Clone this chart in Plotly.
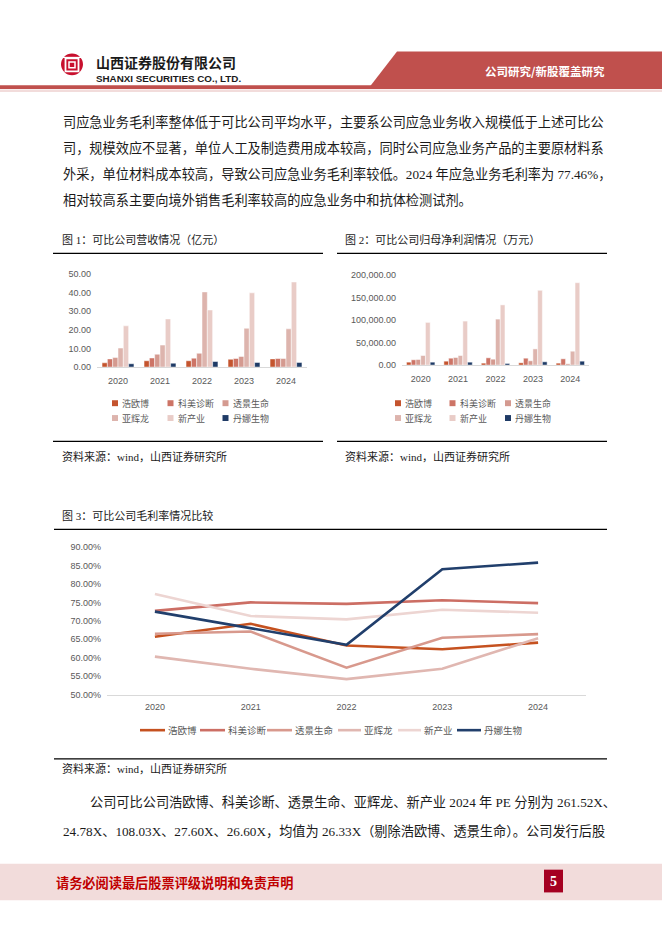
import plotly.graph_objects as go

W, H = 662, 936


def fx(p):
    return p / W


def fy(p):
    return 1 - p / H


# ---------------- data ----------------
years = ["2020", "2021", "2022", "2023", "2024"]
companies = ["浩欧博", "科美诊断", "透景生命", "亚辉龙", "新产业", "丹娜生物"]

# 图1 营收（亿元）
rev_haoubo = [2.3, 3.4, 3.4, 4.2, 4.4]
rev_kemei = [4.4, 4.9, 4.8, 4.6, 4.6]
rev_toujing = [5.1, 6.9, 7.4, 5.7, 4.6]
rev_yahuilong = [10.2, 11.8, 40.3, 20.8, 20.5]
rev_xinchanye = [22.1, 25.8, 30.6, 39.8, 45.6]
rev_danna = [1.8, 2.1, 3.0, 2.5, 2.5]

# 图2 归母净利润（万元）
np_haoubo = [6600, 8800, 4400, 5100, 4400]
np_kemei = [11800, 15400, 16200, 15400, 14000]
np_toujing = [12500, 16900, 13200, 9600, 2900]
np_yahuilong = [21300, 21300, 102200, 36000, 30900]
np_xinchanye = [94900, 97800, 133800, 166200, 183100]
np_danna = [6600, 6600, 3700, 7400, 8800]

# 图3 毛利率（%）
gm_haoubo = [65.7, 69.2, 63.3, 62.3, 64.1]
gm_kemei = [72.7, 75.0, 74.6, 75.6, 74.8]
gm_toujing = [66.5, 67.1, 57.3, 65.4, 66.4]
gm_yahuilong = [60.3, 57.0, 54.2, 57.0, 65.3]
gm_xinchanye = [77.3, 71.3, 70.4, 73.0, 72.2]
gm_danna = [72.5, 68.1, 63.5, 84.0, 85.8]

# tick labels
rev_ticks = [0, 10, 20, 30, 40, 50]
np_ticks = [0, 50000, 100000, 150000, 200000]
gm_ticks = [50, 55, 60, 65, 70, 75, 80, 85, 90]
gm_ticktext = [f"{v:.2f}%" for v in gm_ticks]

bar_colors = ["#C4542E", "#CD7466", "#D49A90", "#DDB4AD", "#E9CCC7", "#1F3B66"]
line_colors = ["#C5511F", "#CC6E64", "#D8998D", "#E0B7B1", "#EDD5D2", "#213F6C"]

revenue = [rev_haoubo, rev_kemei, rev_toujing, rev_yahuilong, rev_xinchanye, rev_danna]
netprofit = [np_haoubo, np_kemei, np_toujing, np_yahuilong, np_xinchanye, np_danna]
grossmargin = [gm_haoubo, gm_kemei, gm_toujing, gm_yahuilong, gm_xinchanye, gm_danna]

fig = go.Figure()

for name, vals, col in zip(companies, revenue, bar_colors):
    fig.add_trace(go.Bar(x=years, y=vals, name=name, marker=dict(color=col, line=dict(color="white", width=0.5)),
                         xaxis="x", yaxis="y", showlegend=False))
for name, vals, col in zip(companies, netprofit, bar_colors):
    fig.add_trace(go.Bar(x=years, y=vals, name=name, marker=dict(color=col, line=dict(color="white", width=0.5)),
                         xaxis="x2", yaxis="y2", showlegend=False))
for name, vals, col in zip(companies, grossmargin, line_colors):
    fig.add_trace(go.Scatter(x=years, y=vals, name=name, mode="lines", line=dict(color=col, width=2.6),
                             xaxis="x3", yaxis="y3", showlegend=False))

TICK = dict(family="Liberation Sans, Noto Sans CJK SC", size=9, color="#595959")
CJK = "Liberation Serif, Noto Sans CJK SC"
SANS_CJK = "Noto Sans CJK SC"

axis_common_x = dict(type="category", showgrid=False, zeroline=False, showline=True, linecolor="#D9D9D9",
                     linewidth=1, ticks="", tickfont=TICK)
axis_common_y = dict(showgrid=False, zeroline=False, showline=False, ticks="", tickfont=TICK, ticklabelstandoff=5)

fig.update_layout(
    width=W, height=H, margin=dict(l=0, r=0, t=0, b=0),
    paper_bgcolor="white", plot_bgcolor="rgba(0,0,0,0)",
    barmode="group", bargap=0.24, bargroupgap=0,
    xaxis=dict(domain=[fx(97), fx(307)], anchor="y", range=[-0.5, 4.5], ticklabelstandoff=5, **axis_common_x),
    yaxis=dict(domain=[fy(366), fy(271.7)], anchor="x", range=[0, 50], tickvals=rev_ticks,
               tickformat=".2f", **axis_common_y),
    xaxis2=dict(domain=[fx(402), fx(589)], anchor="y2", range=[-0.5, 4.5], ticklabelstandoff=5, **axis_common_x),
    yaxis2=dict(domain=[fy(364), fy(273)], anchor="x2", range=[0, 200000],
                tickvals=np_ticks, tickformat=",.2f", **axis_common_y),
    xaxis3=dict(domain=[fx(107), fx(586)], anchor="y3", range=[-0.5, 4.5], ticklabelstandoff=4, **axis_common_x),
    yaxis3=dict(domain=[fy(697), fy(548)], anchor="x3", range=[50, 90],
                tickvals=gm_ticks, ticktext=gm_ticktext, **axis_common_y),
    showlegend=False,
)

shapes = []


def rect(x0, y0, x1, y1, color, line_width=0, line_color=None):
    shapes.append(dict(type="rect", xref="paper", yref="paper", x0=fx(x0), x1=fx(x1), y0=fy(y1), y1=fy(y0),
                       fillcolor=color, line=dict(width=line_width, color=line_color or color), layer="above"))


def hline(x0, x1, y, color="#000000", width=1.2):
    shapes.append(dict(type="line", xref="paper", yref="paper", x0=fx(x0), x1=fx(x1), y0=fy(y), y1=fy(y),
                       line=dict(color=color, width=width), layer="above"))


# header
shapes.append(dict(type="path", xref="paper", yref="paper",
                   path=f"M {fx(397)},{fy(47)} L {fx(662)},{fy(47)} L {fx(662)},{fy(85)} L {fx(368)},{fy(85)} Z",
                   fillcolor="#C0504D", line=dict(width=0)))
rect(0, 81, 372, 85, "#C0504D")
rect(0, 85.5, 662, 88, "#F2DCDB")
# logo
shapes.append(dict(type="circle", xref="paper", yref="paper", x0=fx(61), x1=fx(83), y0=fy(71), y1=fy(49),
                   fillcolor="#C8102E", line=dict(width=0)))
rect(65.5, 54, 78.5, 67, "rgba(0,0,0,0)", 1.8, "white")
rect(69, 57.5, 75, 63.5, "#C8102E", 1.5, "white")
hline(61, 83, 53, "white", 1.2)

# caption rules
hline(53, 323, 251)
hline(53, 323, 441)
hline(337, 607, 251)
hline(337, 607, 441)
hline(54, 607, 530)
hline(54, 607, 762)

# footer
rect(0, 868, 662, 905, "#F2DCDB")
rect(544, 874, 563, 897, "#A50021")

# legends for bar charts (manual swatches)
leg_rows1 = [402.5, 417.5]
leg_sq1 = [115, 170.5, 225.5]
leg_sq2 = [398, 452.5, 508]
annotations = []


def text(x, y, s, size, color="#1a1a1a", family=CJK, anchor="left", weight="normal"):
    annotations.append(dict(x=fx(x), y=fy(y), xref="paper", yref="paper", text=s, showarrow=False,
                            xanchor=anchor, yanchor="middle",
                            font=dict(family=family, size=size, color=color, weight=weight)))


for i, (name, col) in enumerate(zip(companies, bar_colors)):
    r, c = divmod(i, 3)
    y = leg_rows1[r]
    for sqx in (leg_sq1[c], leg_sq2[c]):
        rect(sqx - 3, y - 3, sqx + 3, y + 3, col)
        text(sqx + 5, y, name, 9, "#595959", SANS_CJK)

# legend for line chart
leg3 = [(140, 165), (200, 225), (267, 292), (338, 361), (398, 421), (457, 481)]
for (a, b), name, col in zip(leg3, companies, line_colors):
    hline(a, b, 733, col, 2.6)
    text(b + 1, 733, name, 9.5, "#595959", SANS_CJK)

# header texts
text(545, 67, "公司研究/新股覆盖研究", 11.5, "white", SANS_CJK, "center", "bold")
text(94, 57.3, "山西证券股份有限公司", 14, "#1a1a1a", SANS_CJK, "left", "bold")
text(94, 73.8, "SHANXI SECURITIES CO., LTD.", 9.8, "#1a1a1a", "Liberation Sans", "left", "bold")

# body paragraph
body = [
    "司应急业务毛利率整体低于可比公司平均水平，主要系公司应急业务收入规模低于上述可比公",
    "司，规模效应不显著，单位人工及制造费用成本较高，同时公司应急业务产品的主要原材料系",
    "外采，单位材料成本较高，导致公司应急业务毛利率较低。2024 年应急业务毛利率为 77.46%，",
    "相对较高系主要向境外销售毛利率较高的应急业务中和抗体检测试剂。",
]
for i, line in enumerate(body):
    text(61, 118 + i * 26.3, line, 13.2)

# captions & sources
text(60, 237, "图 1：可比公司营收情况（亿元）", 11)
text(343, 237, "图 2：可比公司归母净利润情况（万元）", 11)
text(60, 456, "资料来源：wind，山西证券研究所", 11)
text(343, 456, "资料来源：wind，山西证券研究所", 11)
text(60, 516, "图 3：可比公司毛利率情况比较", 11)
text(60, 772, "资料来源：wind，山西证券研究所", 11)

# bottom paragraph
text(88, 806, "公司可比公司浩欧博、科美诊断、透景生命、亚辉龙、新产业 2024 年 PE 分别为 261.52X、", 13.2)
text(61, 835, "24.78X、108.03X、27.60X、26.60X，均值为 26.33X（剔除浩欧博、透景生命）。公司发行后股", 13.2)

# footer texts
text(54, 886.5, "请务必阅读最后股票评级说明和免责声明", 13.2, "#C00000", SANS_CJK, "left", "bold")
text(553.5, 885.5, "5", 14, "white", "Liberation Serif", "center", "bold")

fig.update_layout(shapes=shapes, annotations=annotations)
fig.write_html("out.html", config=dict(displayModeBar=False),
               post_script="document.body.style.margin='0px';document.body.style.overflow='hidden';")
